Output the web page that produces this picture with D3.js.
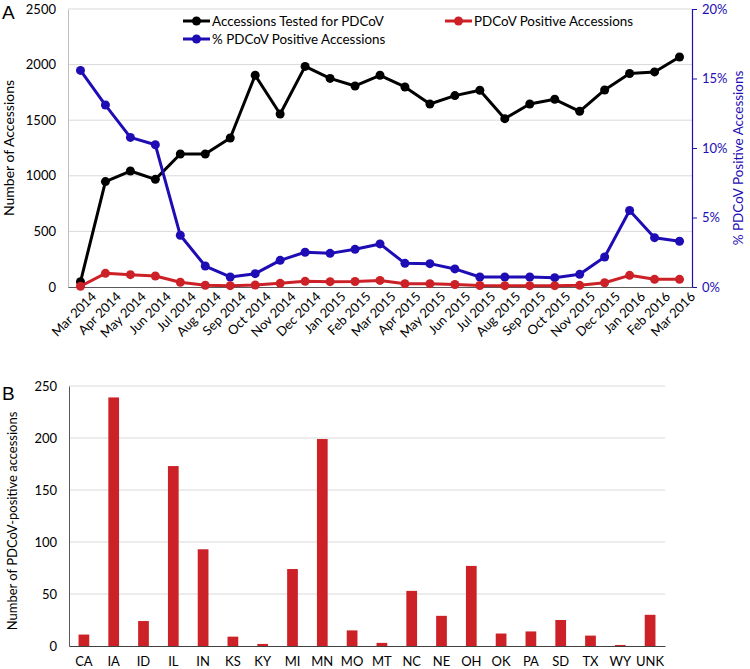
<!DOCTYPE html>
<html><head><meta charset="utf-8">
<script src="https://cdn.jsdelivr.net/npm/d3@7"></script>
<style>body{margin:0;background:#fff;} svg{display:block;font-family:Lato, "Open Sans", sans-serif;}</style>
</head><body>
<svg id="c" width="750" height="669"></svg>
<script>
const months = ["Mar 2014","Apr 2014","May 2014","Jun 2014","Jul 2014","Aug 2014","Sep 2014","Oct 2014","Nov 2014","Dec 2014","Jan 2015","Feb 2015","Mar 2015","Apr 2015","May 2015","Jun 2015","Jul 2015","Aug 2015","Sep 2015","Oct 2015","Nov 2015","Dec 2015","Jan 2016","Feb 2016","Mar 2016"];
const tested = [47,948,1043,968,1196,1196,1340,1904,1556,1984,1876,1808,1904,1799,1646,1721,1769,1514,1646,1688,1580,1772,1920,1934,2068];
const positive = [7,123,111,99,43,16,12,18,33,51,48,49,59,30,30,22,13,12,12,12,15,38,105,69,69];
const pctPositive = [15.58,13.09,10.76,10.23,3.72,1.51,0.72,0.96,1.92,2.50,2.42,2.71,3.10,1.70,1.68,1.30,0.72,0.72,0.72,0.67,0.91,2.16,5.50,3.55,3.29];
const leftTicks = [0,500,1000,1500,2000,2500];
const rightTicks = [0,5,10,15,20];

const states = ["CA","IA","ID","IL","IN","KS","KY","MI","MN","MO","MT","NC","NE","OH","OK","PA","SD","TX","WY","UNK"];
const stateCounts = [11,239,24,173,93,9,2,74,199,15,3,53,29,77,12,14,25,10,1,30];
const barTicks = [0,50,100,150,200,250];

const svg = d3.select("#c");
const BLACK="#000000", RED="#cc2127", BLUE="#1e0cb4", GRID="#d9d9d9";
const FONT = "Lato, sans-serif";

// ---------- Panel A ----------
const A = {l:68, r:692, t:9, b:287};
const x = d3.scalePoint().domain(months).range([A.l, A.r]).padding(0.5);
const yL = d3.scaleLinear().domain([0,2500]).range([A.b, A.t]);
const yR = d3.scaleLinear().domain([0,20]).range([A.b, A.t]);

const gA = svg.append("g");
gA.selectAll("line.grid").data(leftTicks.filter(d=>d>0)).enter().append("line")
  .attr("x1",A.l).attr("x2",A.r).attr("y1",d=>yL(d)).attr("y2",d=>yL(d))
  .attr("stroke",GRID).attr("stroke-width",1);

// left axis
const axL = gA.append("g").attr("transform",`translate(${A.l},0)`)
  .call(d3.axisLeft(yL).tickValues(leftTicks).tickFormat(d3.format("d")).tickSize(0).tickPadding(12));
axL.select(".domain").attr("stroke","#bfbfbf");
axL.selectAll("text").attr("font-size",13).attr("fill","#000").attr("font-family",FONT);

// right axis
const axR = gA.append("g").attr("transform",`translate(${A.r},0)`)
  .call(d3.axisRight(yR).tickValues(rightTicks).tickSize(5).tickPadding(5).tickFormat(d=>d+"%"));
axR.select(".domain").attr("stroke",BLUE).attr("stroke-width",1.2);
axR.selectAll("line").attr("stroke",BLUE);
axR.selectAll("text").attr("font-size",13).attr("fill",BLUE).attr("font-family",FONT);

// bottom axis
const axB = gA.append("g").attr("transform",`translate(0,${A.b})`)
  .call(d3.axisBottom(x).tickSize(0).tickPadding(9));
axB.select(".domain").attr("stroke","#595959").attr("stroke-width",1.2);
axB.selectAll("text").attr("font-size",13).attr("fill","#000").attr("font-family",FONT)
  .attr("text-anchor","end").attr("dx","0.3em").attr("dy","0.75em")
  .attr("transform","rotate(-45)");

// y titles
gA.append("text").attr("transform",`translate(14,${(A.t+A.b)/2}) rotate(-90)`)
  .attr("text-anchor","middle").attr("font-size",14).text("Number of Accessions");
gA.append("text").attr("transform",`translate(743,158) rotate(-90)`)
  .attr("text-anchor","middle").attr("font-size",13.5).attr("fill",BLUE).text("% PDCoV Positive Accessions");

function series(g, vals, yScale, col){
  const line = d3.line().x((d,i)=>x(months[i])).y(d=>yScale(d));
  g.append("path").datum(vals).attr("d",line).attr("fill","none").attr("stroke",col).attr("stroke-width",3).attr("stroke-linejoin","round");
  g.selectAll(null).data(vals).enter().append("circle")
    .attr("cx",(d,i)=>x(months[i])).attr("cy",d=>yScale(d)).attr("r",4.5).attr("fill",col);
}
series(gA, tested, yL, BLACK);
series(gA, pctPositive, yR, BLUE);
series(gA, positive, yL, RED);

// legend
const legend = [
  {label:"Accessions Tested for PDCoV", col:BLACK, x:183, y:21},
  {label:"% PDCoV Positive Accessions", col:BLUE, x:183, y:39},
  {label:"PDCoV Positive Accessions", col:RED, x:445, y:21}
];
const lg = gA.selectAll("g.leg").data(legend).enter().append("g").attr("transform",d=>`translate(${d.x},${d.y})`);
lg.append("line").attr("x1",0).attr("x2",27).attr("stroke",d=>d.col).attr("stroke-width",3);
lg.append("circle").attr("cx",13.5).attr("r",4.5).attr("fill",d=>d.col);
lg.append("text").attr("x",29).attr("dy","0.35em").attr("font-size",13.4).text(d=>d.label);

svg.append("text").attr("x",2).attr("y",19).attr("font-size",19).attr("font-family","Liberation Sans, Arial, sans-serif").text("A");

// ---------- Panel B ----------
const B = {l:69, r:665, t:386, b:646};
const xb = d3.scaleBand().domain(states).range([B.l, B.r]).paddingInner(0.64).paddingOuter(0.32);
const yb = d3.scaleLinear().domain([0,250]).range([B.b, B.t]);
const gB = svg.append("g");
gB.selectAll(null).data(barTicks.filter(d=>d>0)).enter().append("line")
  .attr("x1",B.l).attr("x2",B.r).attr("y1",d=>yb(d)).attr("y2",d=>yb(d))
  .attr("stroke",GRID).attr("stroke-width",1);
gB.selectAll("rect").data(stateCounts).enter().append("rect")
  .attr("x",(d,i)=>xb(states[i])).attr("width",xb.bandwidth())
  .attr("y",d=>yb(d)).attr("height",d=>B.b-yb(d)).attr("fill",RED);
const bL = gB.append("g").attr("transform",`translate(${B.l},0)`)
  .call(d3.axisLeft(yb).tickValues(barTicks).tickSize(0).tickPadding(12));
bL.select(".domain").attr("stroke","#595959");
bL.selectAll("text").attr("font-size",13).attr("fill","#000").attr("font-family",FONT);
const bB = gB.append("g").attr("transform",`translate(0,${B.b})`)
  .call(d3.axisBottom(xb).tickSize(0).tickPadding(11));
bB.select(".domain").attr("stroke","#404040").attr("stroke-width",1.2);
bB.selectAll("text").attr("font-size",13).attr("fill","#000").attr("font-family",FONT);
gB.append("text").attr("transform",`translate(17,521) rotate(-90)`)
  .attr("text-anchor","middle").attr("font-size",13).text("Number of PDCoV-positive accessions");
svg.append("text").attr("x",2).attr("y",400).attr("font-size",19).attr("font-family","Liberation Sans, Arial, sans-serif").text("B");
</script>
</body></html>
